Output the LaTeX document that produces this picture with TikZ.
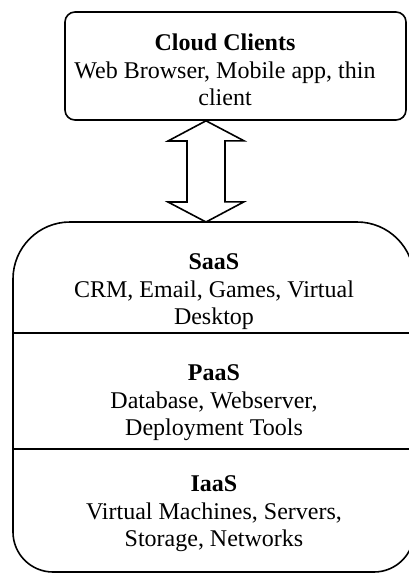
\documentclass[tikz,border=0pt]{standalone}
\usepackage{fontspec}
\setmainfont{Liberation Serif}
\usepackage{tikz}

\begin{document}
\begin{tikzpicture}[x=0.5pt,y=-0.5pt,line width=0.8pt,
		txt/.style={align=center,font=\fontsize{12}{13.8}\selectfont,inner sep=0pt}]
			\useasboundingbox (0,0) rectangle (408,574);
			\node[draw,rounded corners=5pt,minimum width=170.5pt,minimum height=54pt] (clients) at (235.5,66) {};
			\node[txt] (clientstxt) at (225,70) {\textbf{Cloud Clients}\\Web Browser, Mobile app, thin\\client};
			\coordinate (arrx) at (206,0);
			\coordinate (atop) at (clients.south -| arrx);
			\coordinate (abot) at (206,222);
			\draw (atop) -- ++(38,20) -- ++(-19,0) -- ++(0,61) -- ++(19,0) -- (abot) -- ++(-38,-20) -- ++(19,0) -- ++(0,-61) -- ++(-19,0) -- cycle;
			\draw[rounded corners=28.5pt] (13,400) -- (13,222) -- (414,222) -- (414,400);
			\draw[rounded corners=20pt] (13,400) -- (13,572) -- (414,572) -- (414,400);
			\draw (13,333) -- (414,333);
			\draw (13,449) -- (414,449);
			\node[txt] (saas) at (214,292) {\textbf{SaaS}\\CRM, Email, Games, Virtual\\Desktop};
			\node[txt] (paas) at (214,403) {\textbf{PaaS}\\Database, Webserver,\\Deployment Tools};
			\node[txt] (iaas) at (214,514) {\textbf{IaaS}\\Virtual Machines, Servers,\\Storage, Networks};
		\end{tikzpicture}
\end{document}
